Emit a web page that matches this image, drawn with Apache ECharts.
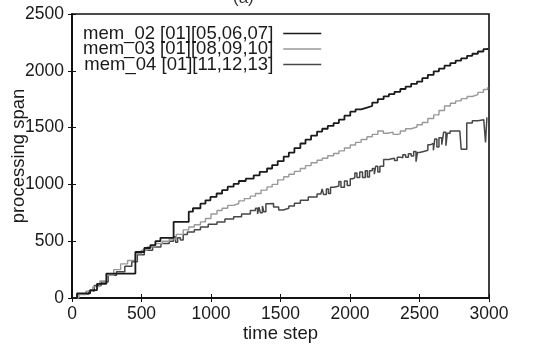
<!DOCTYPE html>
<html>
<head>
<meta charset="utf-8">
<script src="https://cdn.jsdelivr.net/npm/echarts@6/dist/echarts.min.js"></script>
<style>html,body{margin:0;padding:0;background:#fff}#c{width:535px;height:345px}</style>
</head>
<body>
<div id="c"></div>
<script>
const seriesNames = ['mem_02 [01][05,06,07]', 'mem_03 [01][08,09,10]', 'mem_04 [01][11,12,13]'];
const xTicks = [0, 500, 1000, 1500, 2000, 2500, 3000];
const yTicks = [0, 500, 1000, 1500, 2000, 2500];

const t02 = [0,36,130,180,247,456,520,564,600,636,731,840,870,924,960,996,1040,1080,1120,1163,1200,1250,1307,1350,1403,1440,1480,1523,1560,1600,1643,1680,1720,1763,1800,1840,1882,1920,1960,2002,2040,2080,2122,2160,2200,2242,2280,2320,2362,2400,2440,2482,2520,2560,2602,2640,2680,2722,2760,2800,2842,2880,2920,2960,2990];
const v02 = [0,40,70,125,215,405,440,465,500,530,670,760,790,830,860,890,920,950,980,1005,1030,1050,1080,1110,1140,1170,1205,1245,1280,1320,1360,1395,1430,1465,1490,1515,1540,1570,1605,1640,1660,1675,1690,1720,1750,1775,1795,1815,1840,1860,1885,1905,1935,1965,1995,2020,2045,2068,2090,2110,2132,2150,2170,2190,2200];

const t03 = [0,50,100,150,200,250,300,350,400,456,500,540,600,650,700,750,800,840,880,924,960,1000,1043,1080,1120,1163,1200,1240,1283,1320,1360,1403,1440,1480,1523,1560,1600,1643,1680,1720,1763,1800,1840,1882,1920,1960,2002,2040,2080,2122,2160,2200,2240,2270,2310,2340,2362,2400,2440,2482,2520,2560,2602,2640,2680,2722,2760,2800,2842,2880,2920,2960,2990];
const v03 = [0,30,60,100,150,200,250,300,330,390,420,450,480,500,520,560,600,625,645,670,700,740,770,790,815,832,855,875,897,920,950,978,1000,1040,1068,1090,1115,1140,1165,1190,1212,1230,1252,1272,1295,1320,1347,1370,1395,1420,1440,1470,1450,1460,1440,1445,1470,1490,1505,1525,1545,1580,1612,1650,1690,1715,1735,1755,1774,1790,1810,1835,1856];

const t04 = [0,40,120,160,210,260,320,380,430,470,520,580,640,700,730,745,760,780,800,830,880,924,980,1043,1100,1163,1220,1283,1320,1335,1345,1355,1370,1380,1395,1415,1450,1487,1520,1560,1600,1643,1700,1763,1790,1800,1810,1830,1845,1860,1882,1900,1920,1935,1960,1980,2002,2020,2035,2050,2070,2090,2110,2125,2140,2160,2175,2185,2200,2215,2242,2280,2300,2320,2340,2362,2380,2400,2420,2440,2458,2475,2485,2500,2530,2560,2580,2600,2610,2625,2640,2660,2674,2690,2700,2720,2760,2790,2800,2840,2880,2920,2962,2975,2985];
const v04 = [0,35,60,110,140,200,230,280,320,380,420,450,480,500,540,490,530,510,560,580,600,625,650,670,695,715,740,770,790,740,800,750,810,760,830,832,800,775,790,810,835,860,890,915,900,960,910,960,920,975,980,985,1025,975,1030,990,1050,1060,1100,1060,1110,1060,1120,1065,1120,1140,1090,1160,1110,1160,1220,1225,1230,1210,1240,1235,1260,1240,1270,1250,1290,1200,1280,1290,1300,1350,1360,1300,1400,1330,1410,1350,1460,1340,1450,1470,1470,1470,1310,1540,1560,1570,1570,1370,1590];

const zip = (t, v) => t.map((x, i) => [x, v[i]]);
const colors = ['#1a1a1a', '#999999', '#474747'];
const widths = [1.8, 1.4, 1.5];
const datas = [zip(t02, v02), zip(t03, v03), zip(t04, v04)];

const font = 'Liberation Sans, Arial, sans-serif';
const chart = echarts.init(document.getElementById('c'), null, {renderer: 'canvas'});
const axisCommon = {
  type: 'value', splitLine: {show: false},
  axisLine: {show: true, lineStyle: {color: '#111', width: 1.6}},
  axisTick: {show: true, inside: true, length: 4, lineStyle: {color: '#111', width: 1}},
};
chart.setOption({
  animation: false,
  backgroundColor: '#fff',
  title: {text: '(a)', left: 228, top: -15, textStyle: {fontFamily: font, fontSize: 17, fontWeight: 'normal', color: '#333'}},
  grid: {left: 72, right: 46, top: 14, bottom: 47, show: true, borderColor: '#111', borderWidth: 1.6,
         containLabel: false, outerBoundsMode: 'none'},
  legend: {
    orient: 'vertical', left: 78, top: 19, align: 'right', itemGap: -3.5,
    itemWidth: 38, itemHeight: 1.5, icon: 'rect',
    textStyle: {fontFamily: font, fontSize: 18.5, color: '#1a1a1a', lineHeight: 16, padding: [0, 5, 0, 0]},
    data: seriesNames
  },
  xAxis: [
    Object.assign({}, axisCommon, {min: xTicks[0], max: xTicks[xTicks.length-1], interval: 500,
      name: 'time step', nameLocation: 'middle', nameGap: 26, nameMoveOverlap: false,
      nameTextStyle: {fontFamily: font, fontSize: 18.5, color: '#1a1a1a'},
      axisLabel: {fontFamily: font, fontSize: 17.5, color: '#1a1a1a', margin: 7, formatter: v => String(v)}}),
    Object.assign({}, axisCommon, {position: 'top', min: 0, max: 3000, interval: 500, axisLabel: {show: false}})
  ],
  yAxis: [
    Object.assign({}, axisCommon, {min: yTicks[0], max: yTicks[yTicks.length-1], interval: 500,
      name: 'processing span', nameLocation: 'middle', nameGap: 44, nameMoveOverlap: false,
      nameTextStyle: {fontFamily: font, fontSize: 18.5, color: '#1a1a1a'},
      axisLabel: {fontFamily: font, fontSize: 17.5, color: '#1a1a1a', margin: 8, formatter: v => String(v)}}),
    Object.assign({}, axisCommon, {position: 'right', min: 0, max: 2500, interval: 500, axisLabel: {show: false}})
  ],
  series: seriesNames.map((n, i) => ({
    name: n, type: 'line', step: 'end', data: datas[i], showSymbol: false, symbol: 'none',
    color: colors[i], lineStyle: {color: colors[i], width: widths[i]}, z: 3 - i
  }))
});
</script>
</body>
</html>
